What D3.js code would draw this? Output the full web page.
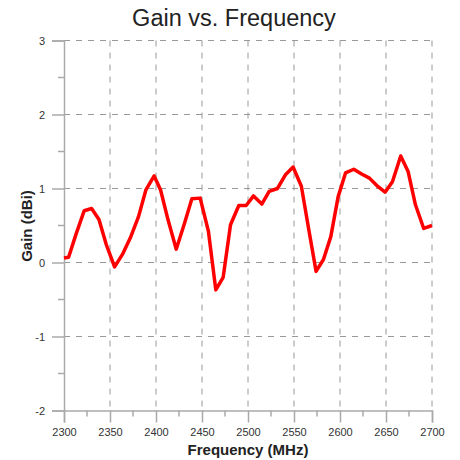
<!DOCTYPE html>
<html><head><meta charset="utf-8">
<script src="https://cdn.jsdelivr.net/npm/d3@7"></script>
<style>body{margin:0;background:#fff}svg{display:block}</style>
</head><body>
<svg id="c" width="460" height="460"></svg>
<script>
const title = "Gain vs. Frequency";
const xLabel = "Frequency (MHz)";
const yLabel = "Gain (dBi)";
const freq = [2300,2305,2313,2322,2330,2338,2346,2355,2364,2372,2381,2389,2398,2405,2413,2422,2431,2439,2448,2457,2465,2473,2481,2490,2498,2506,2515,2523,2532,2541,2549,2558,2566,2574,2582,2590,2598,2606,2615,2623,2632,2640,2649,2657,2666,2674,2682,2691,2700];
const gain = [0.06,0.07,0.38,0.70,0.73,0.58,0.24,-0.06,0.12,0.33,0.62,0.98,1.17,0.98,0.58,0.18,0.53,0.86,0.87,0.42,-0.37,-0.20,0.51,0.77,0.77,0.90,0.79,0.96,1.00,1.19,1.29,1.03,0.45,-0.12,0.04,0.35,0.89,1.21,1.26,1.20,1.14,1.04,0.95,1.09,1.44,1.23,0.78,0.46,0.50];
const xTicks = [2300,2350,2400,2450,2500,2550,2600,2650,2700];
const xMinor = [2325,2375,2425,2475,2525,2575,2625,2675];
const yTicks = [-2,-1,0,1,2,3];
const yMinor = [-1.5,-0.5,0.5,1.5,2.5];

const svg = d3.select("#c");
const x = d3.scaleLinear().domain([2300,2700]).range([64,432]);
const y = d3.scaleLinear().domain([-2,3]).range([410.5,40.5]);
const axisColor = "#aaa", gridColor = "#999";
const font = "'Liberation Sans', Arial, sans-serif";

// grid
svg.append("g").selectAll("line").data(yTicks.filter(d=>d>-2)).join("line")
  .attr("x1",x(2300)).attr("x2",x(2700)).attr("y1",d=>y(d)).attr("y2",d=>y(d))
  .attr("stroke",gridColor).attr("stroke-width",1).attr("stroke-dasharray","6,6");
svg.append("g").selectAll("line").data(xTicks.filter(d=>d>2300)).join("line")
  .attr("x1",d=>x(d)).attr("x2",d=>x(d)).attr("y1",y(3)).attr("y2",y(-2))
  .attr("stroke",gridColor).attr("stroke-width",1).attr("stroke-dasharray","6,6");

// x axis
const xa = svg.append("g").attr("transform",`translate(0,${y(-2)})`)
  .call(d3.axisBottom(x).tickValues(xTicks).tickSize(12).tickPadding(6).tickFormat(d=>String(d)));
xa.select(".domain").attr("stroke",axisColor).attr("stroke-width",1.5);
xa.selectAll(".tick line").attr("stroke",axisColor).attr("stroke-width",1.5);
xa.selectAll("text").attr("font-family",font).attr("font-size",11).attr("fill","#333");
xa.append("g").selectAll("line").data(xMinor).join("line")
  .attr("x1",d=>x(d)).attr("x2",d=>x(d)).attr("y1",0).attr("y2",6)
  .attr("stroke",axisColor).attr("stroke-width",1.5);

// y axis
const ya = svg.append("g").attr("transform",`translate(${x(2300)},0)`)
  .call(d3.axisLeft(y).tickValues(yTicks).tickSize(12).tickPadding(7).tickFormat(d=>String(d)));
ya.select(".domain").attr("stroke",axisColor).attr("stroke-width",1.5);
ya.selectAll(".tick line").attr("stroke",axisColor).attr("stroke-width",1.5);
ya.selectAll("text").attr("font-family",font).attr("font-size",11).attr("fill","#333");
ya.append("g").selectAll("line").data(yMinor).join("line")
  .attr("x1",0).attr("x2",-6).attr("y1",d=>y(d)).attr("y2",d=>y(d))
  .attr("stroke",axisColor).attr("stroke-width",1.5);

// line
const pts = freq.map((f,i)=>[f,gain[i]]);
svg.append("path").datum(pts)
  .attr("d",d3.line().x(d=>x(d[0])).y(d=>y(d[1])))
  .attr("fill","none").attr("stroke","#ff0000").attr("stroke-width",3.5)
  .attr("stroke-linejoin","round");

// titles
svg.append("text").attr("x",234).attr("y",26).attr("text-anchor","middle")
  .attr("font-family",font).attr("font-size",23.5).attr("fill","#222").text(title);
svg.append("text").attr("x",248).attr("y",455).attr("text-anchor","middle")
  .attr("font-family",font).attr("font-size",15).attr("font-weight","bold").attr("fill","#222").text(xLabel);
svg.append("text").attr("transform","translate(32,226) rotate(-90)").attr("text-anchor","middle")
  .attr("font-family",font).attr("font-size",15).attr("font-weight","bold").attr("fill","#222").text(yLabel);
</script>
</body></html>
